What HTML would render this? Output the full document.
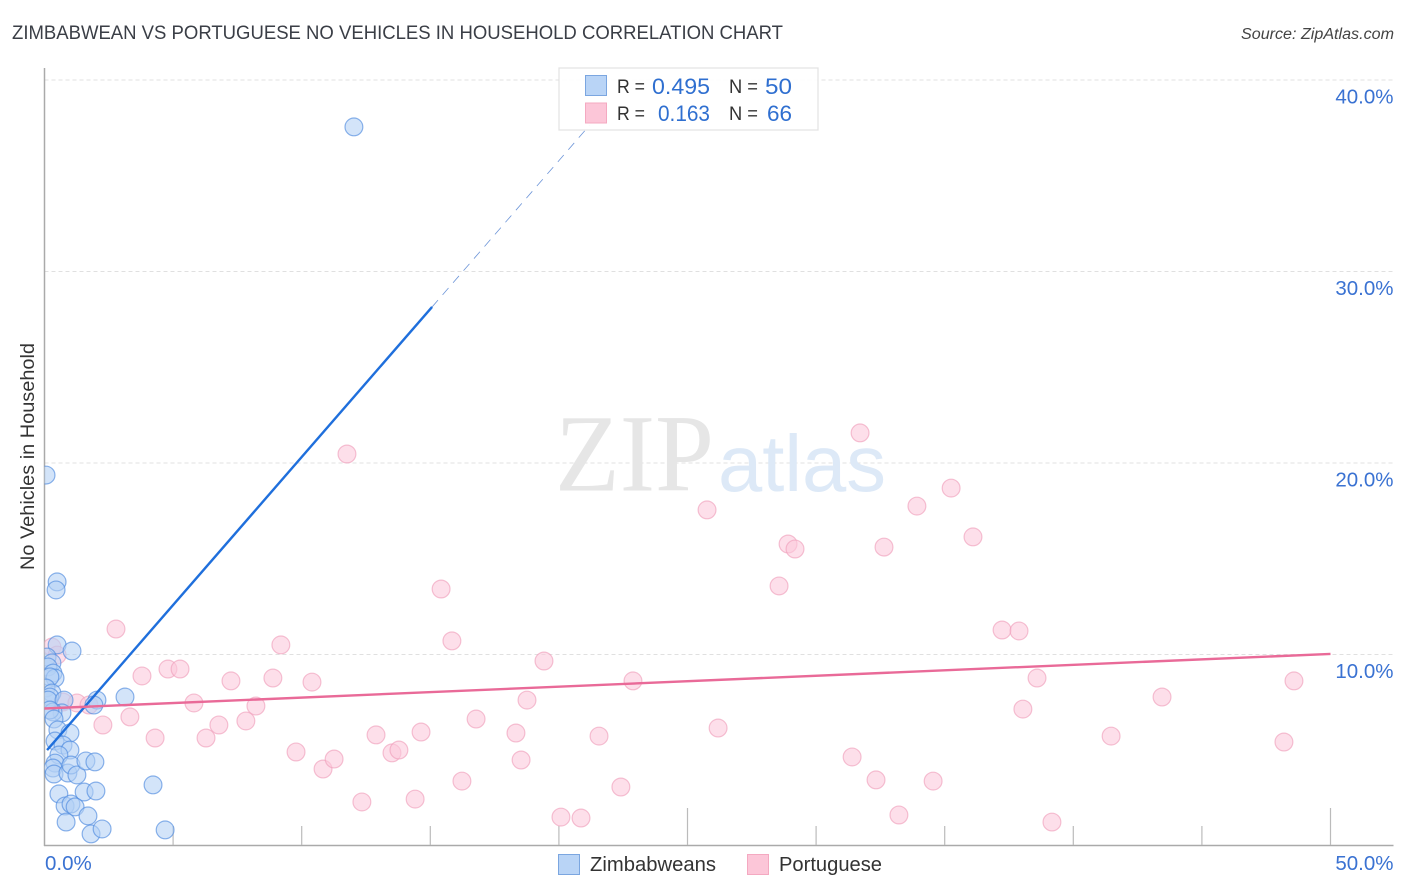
<!DOCTYPE html>
<html lang="en">
<head>
<meta charset="utf-8">
<title>Zimbabwean vs Portuguese No Vehicles in Household Correlation Chart</title>
<style>
html,body{margin:0;padding:0;background:#fff;}
svg{display:block;font-family:"Liberation Sans",sans-serif;}
</style>
</head>
<body>
<svg id="chart" xmlns="http://www.w3.org/2000/svg" width="1406" height="892" viewBox="0 0 1406 892">
  <defs>
    <clipPath id="plot-clip"><rect x="44.5" y="60" width="1350" height="786"></rect></clipPath>
  </defs>
  <rect x="0" y="0" width="1406" height="892" fill="#fff"></rect>
  <text x="12" y="39" font-size="19" fill="#3a3e46" textLength="771" lengthAdjust="spacingAndGlyphs">ZIMBABWEAN VS PORTUGUESE NO VEHICLES IN HOUSEHOLD CORRELATION CHART</text>
  <text x="1241" y="39" font-size="15.5" font-style="italic" fill="#444" textLength="153" lengthAdjust="spacingAndGlyphs">Source: ZipAtlas.com</text>
  <g id="grid"></g>
  <g>
    <text x="555" y="490.5" font-family="'Liberation Serif',serif" font-size="110" fill="#e6e6e6" textLength="159" lengthAdjust="spacingAndGlyphs">ZIP</text>
    <text x="718" y="491" font-size="80" fill="#dde9f7" textLength="168" lengthAdjust="spacingAndGlyphs">atlas</text>
  </g>
  <g id="axes"></g>
  <g id="points" clip-path="url(#plot-clip)"></g>
  <g id="trends"></g>
  <g id="labels"></g>
  <text transform="translate(34 570) rotate(-90)" font-size="19" fill="#333" textLength="227" lengthAdjust="spacingAndGlyphs">No Vehicles in Household</text>

  <g>
    <rect x="559" y="68" width="259" height="62" fill="#fff" fill-opacity="0.92" stroke="#e2e2e2" stroke-width="1.2"></rect>
    <rect x="585.5" y="75.5" width="21" height="20" fill="#b9d4f6" stroke="#7ba6e0"></rect>
    <rect x="585.5" y="103" width="21" height="20" fill="#fcc6d8" stroke="#f4a9c1"></rect>
    <text x="617" y="93" font-size="19.5" fill="#333" textLength="28" lengthAdjust="spacingAndGlyphs">R =</text>
    <text x="652" y="94" font-size="22" fill="#2f6fd0" textLength="58" lengthAdjust="spacingAndGlyphs">0.495</text>
    <text x="729" y="93" font-size="19.5" fill="#333" textLength="29" lengthAdjust="spacingAndGlyphs">N =</text>
    <text x="765" y="94" font-size="22" fill="#2f6fd0" textLength="27" lengthAdjust="spacingAndGlyphs">50</text>
    <text x="617" y="120" font-size="19.5" fill="#333" textLength="28" lengthAdjust="spacingAndGlyphs">R =</text>
    <text x="658" y="121" font-size="22" fill="#2f6fd0" textLength="52" lengthAdjust="spacingAndGlyphs">0.163</text>
    <text x="729" y="120" font-size="19.5" fill="#333" textLength="29" lengthAdjust="spacingAndGlyphs">N =</text>
    <text x="767" y="121" font-size="22" fill="#2f6fd0" textLength="25" lengthAdjust="spacingAndGlyphs">66</text>
  </g>

  <g>
    <rect x="558.5" y="854.5" width="21" height="20" fill="#b9d4f6" stroke="#7ba6e0"></rect>
    <text x="590" y="871" font-size="20" fill="#333" textLength="126" lengthAdjust="spacingAndGlyphs">Zimbabweans</text>
    <rect x="747.5" y="854.5" width="21" height="20" fill="#fcc6d8" stroke="#f4a9c1"></rect>
    <text x="779" y="871" font-size="20" fill="#333" textLength="103" lengthAdjust="spacingAndGlyphs">Portuguese</text>
  </g>
</svg>
<script>
const zimbabweanX = [12.03,0.06,0.49,0.45,0.49,1.07,0.10,0.29,0.14,0.33,0.41,0.21,0.06,0.29,0.21,0.14,0.76,2.04,1.92,3.13,0.68,0.33,0.21,0.37,0.52,0.99,0.41,0.72,0.99,0.56,0.41,0.33,0.37,0.91,1.03,1.26,1.61,1.96,4.22,0.56,1.54,2.00,0.80,1.03,1.19,1.69,0.84,1.81,2.24,4.69];
const zimbabweanY = [37.55,19.37,13.79,13.37,10.50,10.18,9.87,9.56,9.35,9.03,8.77,8.83,8.25,7.99,7.78,7.62,7.62,7.62,7.36,7.78,6.95,7.00,7.10,6.63,6.06,5.90,5.48,5.27,5.01,4.75,4.33,4.07,3.76,3.81,4.23,3.71,4.44,4.39,3.19,2.72,2.82,2.87,2.09,2.19,2.04,1.57,1.25,0.63,0.89,0.84];
const portugueseX = [0.29,0.49,0.72,1.26,1.73,2.27,3.32,4.30,3.79,4.80,5.27,5.81,6.28,6.78,2.78,7.25,8.88,9.19,10.40,8.22,7.83,9.78,10.83,11.26,11.76,12.34,12.89,13.51,13.78,14.41,14.64,15.42,15.84,16.23,16.78,18.33,18.53,18.76,19.42,20.08,20.86,21.56,22.41,22.88,25.76,26.19,28.56,28.91,29.18,31.40,31.71,32.33,32.64,33.22,33.92,34.55,35.25,36.10,37.23,37.89,38.04,38.59,39.17,41.47,43.45,48.19,48.58];
const portugueseY = [10.39,9.97,7.52,7.47,7.36,6.32,6.74,5.64,8.88,9.24,9.24,7.47,5.64,6.32,11.33,8.62,8.77,10.50,8.56,7.31,6.53,4.91,4.02,4.54,20.47,2.30,5.80,4.86,5.01,2.45,5.95,13.42,10.71,3.39,6.63,5.90,4.49,7.62,9.66,1.51,1.46,5.74,3.08,8.62,17.55,6.16,13.58,15.77,15.51,4.65,21.57,3.45,15.61,1.62,17.75,3.39,18.69,16.14,11.28,11.23,7.15,8.77,1.25,5.74,7.78,5.43,8.62];
const zimbabweanTrendX = [0.10,15.07];
const zimbabweanTrendY = [5.01,28.15];
const zimbabweanDashX = [15.07,21.20];
const zimbabweanDashY = [28.15,37.65];
const portugueseTrendX = [0,50];
const portugueseTrendY = [7.18,10.03];
const xTicks = [0,5,10,15,20,25,30,35,40,45,50];
const yTicks = [10,20,30,40];
const yTickLabels = ['10.0%','20.0%','30.0%','40.0%'];
const xTickLabels = ['0.0%','50.0%'];
const xTickLabelValues = [0,50];

const NS = 'http://www.w3.org/2000/svg';
function sx(v){ return 44.5 + v * 25.72; }
function sy(v){ return 846 - v * 19.15; }
function make(tag, attrs, parent){
  const el = document.createElementNS(NS, tag);
  for (const k in attrs) el.setAttribute(k, attrs[k]);
  parent.appendChild(el);
  return el;
}
const gridG = document.getElementById('grid');
const axesG = document.getElementById('axes');
const pointsG = document.getElementById('points');
const trendsG = document.getElementById('trends');
const labelsG = document.getElementById('labels');

yTicks.forEach(function(t){
  const el = make('line', {x1:44.5, x2:1393, y1:sy(t), y2:sy(t), stroke:'#e0e0e0', 'stroke-width':1, 'stroke-dasharray':'4 3'}, gridG);
  
  
});

const yAxisLine = make('line', {x1:44.5, x2:44.5, y1:68, y2:846, stroke:'#aaa', 'stroke-width':1.5}, axesG);


const xAxisLine = make('line', {x1:44, x2:1393.5, y1:845.5, y2:845.5, stroke:'#aaa', 'stroke-width':1.5}, axesG);


xTicks.forEach(function(t){
  if (t === 0) return;
  const tall = t % 25 === 0;
  const el = make('line', {x1:sx(t), x2:sx(t), y1:tall ? 808 : 826, y2:845, stroke:'#bbb', 'stroke-width':1.2}, axesG);
  
  
});

function drawPoints(xs, ys, fill, stroke, name){
  xs.forEach(function(v, i){
    const el = make('circle', {cx:sx(v), cy:sy(ys[i]), r:8.9, fill:fill, 'fill-opacity':0.58, stroke:stroke, 'stroke-opacity':0.65, 'stroke-width':1.2}, pointsG);
    
    
  });
}
drawPoints(portugueseX, portugueseY, '#fbc8da', '#f0a0bc', 'portuguese-point');
drawPoints(zimbabweanX, zimbabweanY, '#b4d0f5', '#4f8ade', 'zimbabwean-point');

const blueDash = make('line', {x1:sx(zimbabweanDashX[0]), y1:sy(zimbabweanDashY[0]), x2:sx(zimbabweanDashX[1]), y2:sy(zimbabweanDashY[1]), stroke:'#6d95d8', 'stroke-width':0.8, 'stroke-dasharray':'9 7'}, trendsG);


const blueLine = make('line', {x1:sx(zimbabweanTrendX[0]), y1:sy(zimbabweanTrendY[0]), x2:sx(zimbabweanTrendX[1]), y2:sy(zimbabweanTrendY[1]), stroke:'#1f6fdc', 'stroke-width':2.4}, trendsG);


const pinkLine = make('line', {x1:sx(portugueseTrendX[0]), y1:sy(portugueseTrendY[0]), x2:sx(portugueseTrendX[1]), y2:sy(portugueseTrendY[1]), stroke:'#e96a98', 'stroke-width':2.4}, trendsG);



yTicks.forEach(function(t, i){
  const el = make('text', {x:1393.5, y:sy(t) + 23.5, 'font-size':20.5, fill:'#3a72d2', 'text-anchor':'end'}, labelsG);
  el.textContent = yTickLabels[i];
  
  
});
xTickLabelValues.forEach(function(t, i){
  const el = make('text', {x:t === 0 ? 45 : 1393.5, y:870, 'font-size':20.5, fill:'#3a72d2', 'text-anchor':t === 0 ? 'start' : 'end'}, labelsG);
  el.textContent = xTickLabels[i];
  
  
});
</script>
</body>
</html>
